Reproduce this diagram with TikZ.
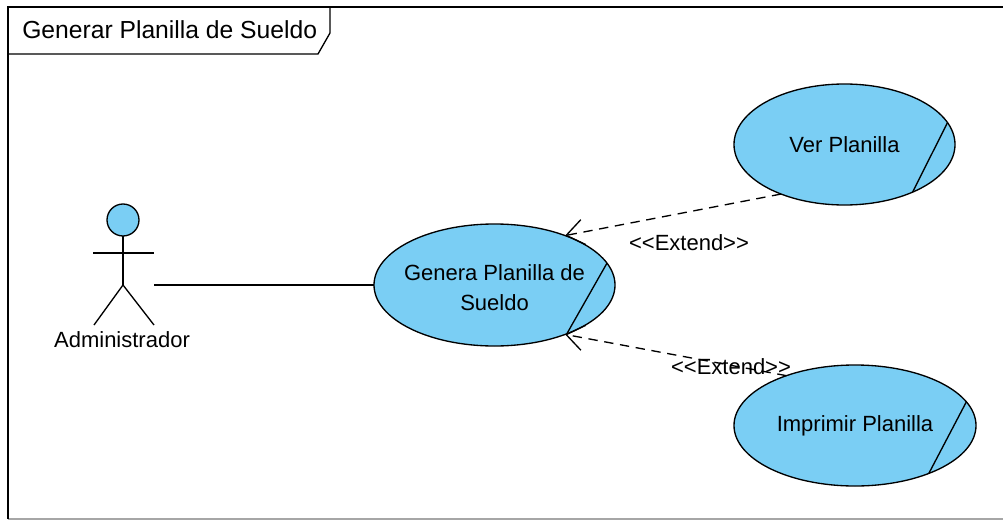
\documentclass[tikz,border=0pt]{standalone}
\usepackage{fontspec}
\setmainfont{Liberation Sans}
\usetikzlibrary{arrows.meta,shapes,positioning}
\definecolor{ucblue}{HTML}{7ACEF4}
\tikzset{
  usecase/.style={draw, ellipse, fill=ucblue, line width=1pt, inner sep=0pt, outer sep=0pt, align=center, font=\fontsize{16.5}{22.5}\selectfont},
  extendline/.style={dashed, dash pattern=on 7pt off 5pt, line width=1pt, -{Straight Barb[length=13pt,width=19pt,line width=1pt]}},
  umlline/.style={line width=1pt},
  umltext/.style={inner sep=0pt, font=\fontsize{16.5}{20}\selectfont}
}

\begin{document}
\begin{tikzpicture}[x=0.75pt,y=-0.75pt]
\useasboundingbox (0,0) rectangle (1003,521);

% Frame and its tab
\coordinate (frameTL) at (8,7);
\coordinate (frameTR) at (1003,7);
\coordinate (frameBL) at (8,519);
\coordinate (frameBR) at (1003,519);
\coordinate (tabTR) at (330,7);
\coordinate (tabR) at (330,33);
\coordinate (tabB) at (318,54);
\coordinate (tabL) at (8,54);
\draw[line width=1pt, black!35] (frameBL) -- (frameBR);
\draw[umlline, line width=1.3pt] (frameBL) -- (frameTL) -- (frameTR);
\draw[umlline] (tabTR) -- (tabR) -- (tabB) -- (tabL);
\node[umltext, anchor=west, font=\fontsize{18.5}{22}\selectfont] (title) at (22,30) {Generar Planilla de Sueldo};

% Actor
\node[draw, circle, fill=ucblue, line width=1pt, minimum size=24pt, inner sep=0pt, outer sep=0pt] (head) at (123,220) {};
\coordinate (armL) at (93,253);
\coordinate (armR) at (154,253);
\coordinate (hip) at (123,285);
\coordinate (footL) at (94,325);
\coordinate (footR) at (154,325);
\draw[umlline] (head) -- (hip);
\draw[umlline] (armL) -- (armR);
\draw[umlline] (footL) -- (hip) -- (footR);
\node[umltext] (admin) at (122,340) {Administrador};
\coordinate (adminEnd) at (154,285);

% Use cases
\node[usecase, inner xsep=-5pt, minimum width=180.75pt, minimum height=91.5pt] (genera) at (494.5,285) {\rule{0pt}{16.5pt}Genera Planilla de\\Sueldo};
\node[usecase, minimum width=165.75pt, minimum height=90.75pt] (ver) at (844.5,144.5) {Ver Planilla};
\node[usecase, minimum width=181.5pt, minimum height=90.75pt] (imprimir) at (855,425.5) {Imprimir Planilla};

% Extension point bars
\draw[umlline] (genera.11) -- (genera.326);
\draw[umlline] (ver.12) -- (ver.325);
\draw[umlline] (imprimir.12) -- (imprimir.327);

% Relationships
\draw[umlline] (adminEnd) -- (genera);
\draw[extendline] (ver.218) -- (genera.35);
\draw[extendline] (imprimir.144) -- (genera.325);

% Stereotype labels
\node[umltext] (extendver) at (689,243) {<{}<Extend>{}>};
\node[umltext] (extendimprimir) at (731,367) {<{}<Extend>{}>};

\end{tikzpicture}
\end{document}
